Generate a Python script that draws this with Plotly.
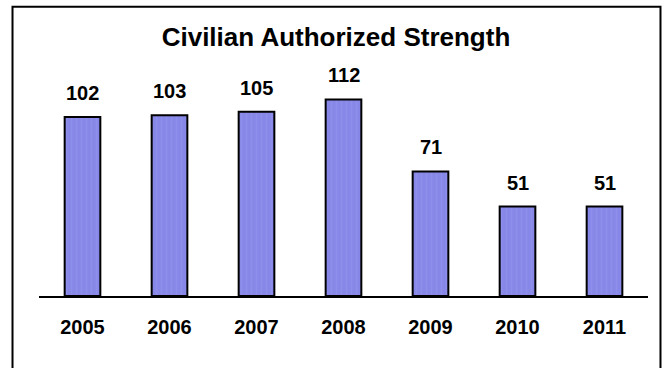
import plotly.graph_objects as go

# Civilian authorized strength by fiscal year
years = ["2005", "2006", "2007", "2008", "2009", "2010", "2011"]
strength = [102, 103, 105, 112, 71, 51, 51]

BAR_COLOR = "#8787E8"
STRIPE_COLOR = "#9696EE"
FONT = "Liberation Sans, Arial, sans-serif"


def main():
    fig = go.Figure()

    fig.add_trace(go.Bar(x=years,
                         y=strength,
                         width=0.41,
                         marker=dict(color=BAR_COLOR,
                                     line=dict(color="black", width=2),
                                     pattern=dict(shape="|", fgcolor=STRIPE_COLOR,
                                                  bgcolor=BAR_COLOR, size=5,
                                                  solidity=0.3)),
                         hoverinfo="x+y"))

    # value labels sit a bit above each bar
    # (category index used for x, "2005" would be read as a serial number)
    for i, val in enumerate(strength):
        fig.add_annotation(x=i, y=val, text="<b>%d</b>" % val,
                           showarrow=False, yanchor="bottom", yshift=11,
                           font=dict(family=FONT, size=20, color="black"))

    # frame around the chart (left, top, right)
    fig.add_shape(type="path",
                  path="M -0.0435,-0.35 L -0.0435,1.226 L 1.0205,1.226 L 1.0205,-0.35",
                  xref="paper", yref="paper",
                  line=dict(color="black", width=2))

    fig.update_layout(
        width=664, height=368,
        margin=dict(l=39, r=16, t=60, b=72),
        paper_bgcolor="white",
        plot_bgcolor="white",
        showlegend=False,
        title=dict(text="<b>Civilian Authorized Strength</b>",
                   x=336 / 664, xanchor="center",
                   y=1 - 37 / 368, yanchor="middle",
                   font=dict(family=FONT, size=26, color="black")),
        xaxis=dict(type="category",
                   showline=True, linecolor="black", linewidth=2,
                   showgrid=False, zeroline=False,
                   ticks="outside", ticklen=12, tickcolor="rgba(0,0,0,0)",
                   tickfont=dict(family=FONT, size=20, color="black"),
                   tickprefix="<b>", ticksuffix="</b>"),
        yaxis=dict(range=[0, 134.5], visible=False,
                   showgrid=False, zeroline=False),
    )

    # drop the default 8px body margin so the figure fills the window
    fig.write_html("out.html",
                   config={"displayModeBar": False},
                   post_script="document.body.style.margin='0';"
                               "document.body.style.overflow='hidden';")


if __name__ == "__main__":
    main()
